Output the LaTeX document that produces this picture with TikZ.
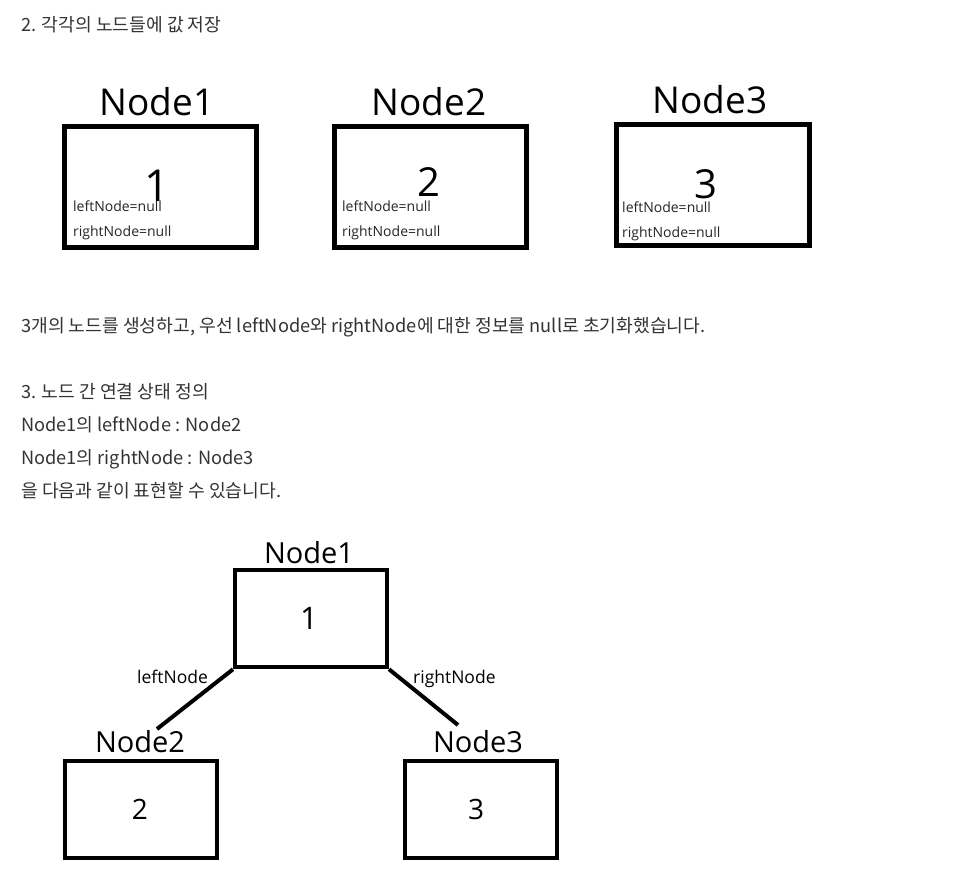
\documentclass[tikz,border=0pt]{standalone}
\usepackage{fontspec}
\setmainfont{Open Sans}
\newfontfamily\kr{Noto Sans CJK KR}
\definecolor{txt}{HTML}{333333}
\begin{document}
\begin{tikzpicture}[x=1pt,y=-1pt,
  krtext/.style={anchor=base west, inner sep=0, text=txt, font=\kr\fontsize{18.2}{20}\selectfont},
  bigbox/.style={draw=black, line width=5pt, inner sep=0},
  treebox/.style={draw=black, line width=4pt, inner sep=0, minimum width=152pt, minimum height=97pt},
  title/.style={anchor=base, inner sep=0, font=\fontsize{37}{40}\selectfont},
  ttitle/.style={anchor=base, inner sep=0, font=\fontsize{29}{32}\selectfont},
  small/.style={anchor=base west, inner sep=0, text=black!85, font=\fontsize{14}{16}\selectfont},
  edgelbl/.style={anchor=base west, inner sep=0, font=\fontsize{17.5}{20}\selectfont},
  link/.style={line width=4pt}]
\useasboundingbox (0,0) rectangle (976,881);
\fill[white] (0,0) rectangle (976,881);

% section 2
\node[krtext] (t1) at (21,31) {2. 각각의 노드들에 값 저장};

\node[bigbox, minimum width=192pt, minimum height=121pt] (b1) at (160.5,186.5) {};
\node[bigbox, minimum width=192pt, minimum height=121pt] (b2) at (430.5,186.5) {};
\node[bigbox, minimum width=193pt, minimum height=121pt] (b3) at (712.5,185) {};

\node[title] (n1) at (157,115) {Node1};
\node[title] (n2) at (429,115) {Node2};
\node[title] (n3) at (710,113) {Node3};

\node[anchor=base, inner sep=0, font=\fontsize{44}{46}\selectfont] (v1) at (157.5,201) {1};
\node[anchor=base, inner sep=0, font=\fontsize{40}{44}\selectfont] (v2) at (428.5,196) {2};
\node[anchor=base, inner sep=0, font=\fontsize{40}{44}\selectfont] (v3) at (706,198) {3};

\node[small] (l1) at (73,211) {leftNode=null};
\node[small] (r1) at (73,236) {rightNode=null};
\node[small] (l2) at (342,211) {leftNode=null};
\node[small] (r2) at (342,236) {rightNode=null};
\node[small] (l3) at (622,212) {leftNode=null};
\node[small] (r3) at (622,237) {rightNode=null};

% text
\node[krtext] (p1) at (21,332) {3개의 노드를 생성하고, 우선 leftNode와 rightNode에 대한 정보를 null로 초기화했습니다.};
\node[krtext] (p2) at (21,398) {3. 노드 간 연결 상태 정의};
\node[krtext] (p3) at (21,431) {Node1의 leftNode : Node2};
\node[krtext] (p4) at (21,464) {Node1의 rightNode : Node3};
\node[krtext] (p5) at (21,497) {을 다음과 같이 표현할 수 있습니다.};

% tree
\node[treebox] (c1) at (311,618.75) {};
\node[treebox] (c2) at (141,809.5) {};
\node[treebox] (c3) at (481,809.5) {};

\node[ttitle] (m1) at (309,563) {Node1};
\node[ttitle] (m2) at (140,752) {Node2};
\node[ttitle] (m3) at (478,752) {Node3};

\node[anchor=base, inner sep=0, font=\fontsize{31}{34}\selectfont] (w1) at (309,629) {1};
\node[anchor=base, inner sep=0, font=\fontsize{28}{30}\selectfont] (w2) at (140,819) {2};
\node[anchor=base, inner sep=0, font=\fontsize{28}{30}\selectfont] (w3) at (476,819) {3};

\coordinate (e2) at (157,729);
\coordinate (e3) at (458,725);
\draw[link] (c1.south west) -- (e2);
\draw[link] (c1.south east) -- (e3);

\node[edgelbl] (el) at (137,683) {leftNode};
\node[edgelbl] (er) at (413,683) {rightNode};
\end{tikzpicture}
\end{document}
